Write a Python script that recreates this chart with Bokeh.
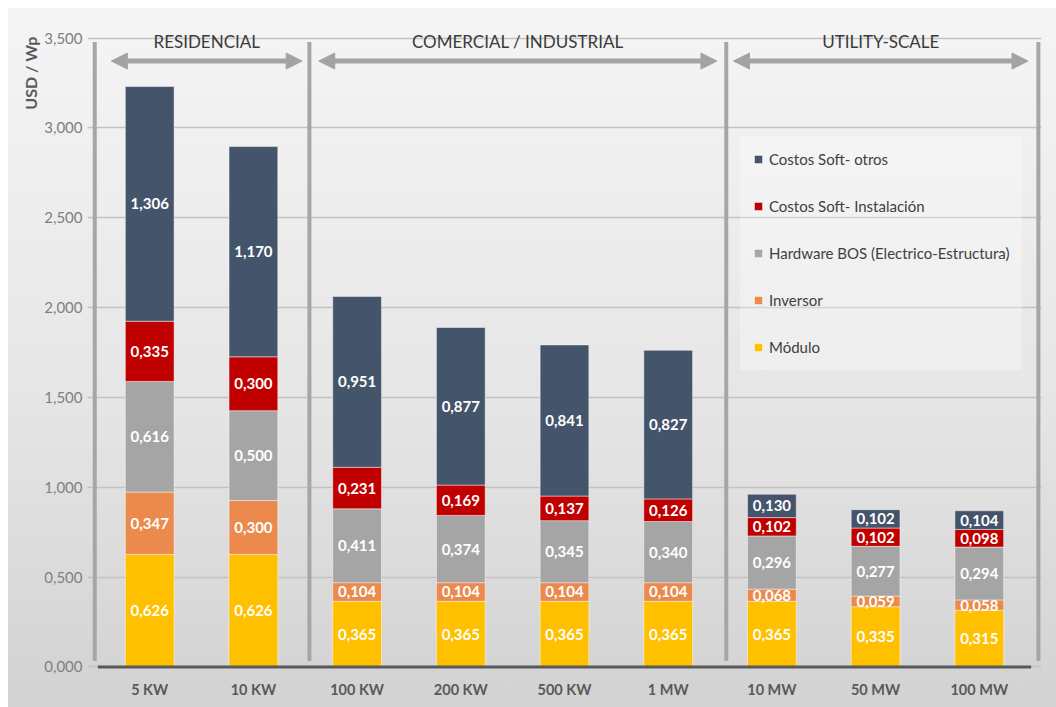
import numpy as np
from bokeh.plotting import figure
from bokeh.models import (ColumnDataSource, FactorRange, FixedTicker, Legend, LegendItem,
                          Arrow, NormalHead, Range1d, Title)
from bokeh.core.properties import value
from bokeh.embed import file_html
from bokeh.resources import INLINE

# ---------------- data ----------------
categories = ["5 KW", "10 KW", "100 KW", "200 KW", "500 KW", "1 MW", "10 MW", "50 MW", "100 MW"]
modulo = [0.626, 0.626, 0.365, 0.365, 0.365, 0.365, 0.365, 0.335, 0.315]
inversor = [0.347, 0.300, 0.104, 0.104, 0.104, 0.104, 0.068, 0.059, 0.058]
hardware_bos = [0.616, 0.500, 0.411, 0.374, 0.345, 0.340, 0.296, 0.277, 0.294]
soft_instalacion = [0.335, 0.300, 0.231, 0.169, 0.137, 0.126, 0.102, 0.102, 0.098]
soft_otros = [1.306, 1.170, 0.951, 0.877, 0.841, 0.827, 0.130, 0.102, 0.104]

series_names = ["Módulo", "Inversor", "Hardware BOS (Electrico-Estructura)",
                "Costos Soft- Instalación", "Costos Soft- otros"]
series_values = [modulo, inversor, hardware_bos, soft_instalacion, soft_otros]
series_colors = ["#ffc000", "#ec8a4e", "#a5a5a5", "#c00000", "#44546a"]

segments = ["RESIDENCIAL", "COMERCIAL / INDUSTRIAL", "UTILITY-SCALE"]
segment_first = ["5 KW", "100 KW", "10 MW"]
segment_last = ["10 KW", "1 MW", "100 MW"]

y_ticks = [0, 0.5, 1, 1.5, 2, 2.5, 3, 3.5]
y_tick_labels = ["0,000", "0,500", "1,000", "1,500", "2,000", "2,500", "3,000", "3,500"]
y_title = "USD / Wp"

FONT = "Lato"

# ---------------- figure ----------------
p = figure(width=1048, height=699,
           x_range=FactorRange(factors=categories, range_padding=0.1, range_padding_units="absolute"),
           y_range=Range1d(-0.02, 3.62),
           output_backend="svg", toolbar_location=None,
           min_border_left=79, min_border_right=15, min_border_top=8, min_border_bottom=37)
p.margin = (8, 0, 0, 8)
p.background_fill_alpha = 0
p.border_fill_alpha = 0
p.outline_line_color = None
p.styles = {"background": "linear-gradient(to bottom, #f5f5f5 0%, #e6e6e6 55%, #d2d2d2 100%)"}

# stacked bars
src = {"x": categories}
for name, vals in zip(series_names, series_values):
    src[name] = vals
source = ColumnDataSource(src)
renderers = p.vbar_stack(series_names, x="x", width=0.47, source=source,
                         fill_color=series_colors, line_color="#ffffff", line_alpha=0.45, line_width=1)

# value labels
lab_x, lab_y, lab_t = [], [], []
bottom = np.zeros(len(categories))
for vals in series_values:
    v = np.array(vals)
    mids = bottom + v / 2
    for c, m, val in zip(categories, mids, vals):
        lab_x.append(c)
        lab_y.append(float(m))
        lab_t.append(f"{val:.3f}".replace(".", ","))
    bottom = bottom + v
p.text(x="x", y="y", text="t", source=ColumnDataSource(dict(x=lab_x, y=lab_y, t=lab_t)),
       text_font=value(FONT), text_font_style="bold", text_font_size="15px",
       text_color="#ffffff", text_align="center", text_baseline="middle")

# dividers (synthetic categorical coordinates)
divider_x = [-0.03, 2.04, 6.06, 9.07]
p.segment(x0=divider_x, y0=[0.033] * 4, x1=divider_x, y1=[3.478] * 4,
          line_color="#a6a6a6", line_width=4)

# baseline
p.segment(x0=[0], y0=[0], x1=[len(categories)], y1=[0], line_color="#595959", line_width=3)

# segment arrows + headers
ax0 = [categories.index(c) + 0.13 for c in segment_first]
ax1 = [categories.index(c) + 1 - 0.03 for c in segment_last]
acol = "#a3a3a3"
arrow_src = ColumnDataSource(dict(x0=ax0, x1=ax1, y=[3.372] * 3))
p.add_layout(Arrow(source=arrow_src, x_start="x0", y_start="y", x_end="x1", y_end="y",
                   line_color=acol, line_width=5,
                   start=NormalHead(size=16, fill_color=acol, line_color=acol),
                   end=NormalHead(size=16, fill_color=acol, line_color=acol)))
hx = [(a + b) / 2 for a, b in zip(ax0, ax1)]
p.text(x=hx, y=[3.48] * 3, text=segments, text_font=value(FONT), text_font_size="17px",
       text_color="#3b3b3b", text_align="center", text_baseline="middle")

# axes
p.xgrid.visible = False
p.ygrid.ticker = FixedTicker(ticks=y_ticks)
p.ygrid.grid_line_color = "#c2c2c2"
p.ygrid.grid_line_width = 1.5

p.yaxis.ticker = FixedTicker(ticks=y_ticks)
p.yaxis.major_label_overrides = dict(zip(y_ticks, y_tick_labels))
p.yaxis.axis_line_color = None
p.yaxis.major_tick_line_color = None
p.yaxis.minor_tick_line_color = None
p.yaxis.major_tick_out = 0
p.yaxis.major_label_text_font = FONT
p.yaxis.major_label_text_font_size = "15px"
p.yaxis.major_label_text_color = "#7f7f7f"
p.yaxis.major_label_standoff = 5

# y title at the top of the left side, as in the original
p.add_layout(Title(text=y_title, align="right", offset=20, standoff=4,
                   text_font=FONT, text_font_style="bold", text_font_size="16px",
                   text_color="#595959"), "left")

p.xaxis.axis_line_color = None
p.xaxis.major_tick_line_color = None
p.xaxis.minor_tick_line_color = None
p.xaxis.major_tick_out = 0
p.xaxis.major_label_text_font = FONT
p.xaxis.major_label_text_font_style = "bold"
p.xaxis.major_label_text_font_size = "14.5px"
p.xaxis.major_label_text_color = "#595959"
p.xaxis.major_label_standoff = 10

# legend (top series first)
items = [LegendItem(label=n, renderers=[r]) for n, r in zip(series_names[::-1], renderers[::-1])]
legend = Legend(items=items, location=(653, 300), padding=13, spacing=27, margin=0,
                glyph_height=10, glyph_width=10, label_height=20, label_standoff=6,
                label_text_font=FONT, label_text_font_size="15px", label_text_color="#404040",
                border_line_alpha=0, background_fill_color="#ffffff", background_fill_alpha=0.3)
p.add_layout(legend)

open("out.html", "w").write(file_html(p, INLINE))
